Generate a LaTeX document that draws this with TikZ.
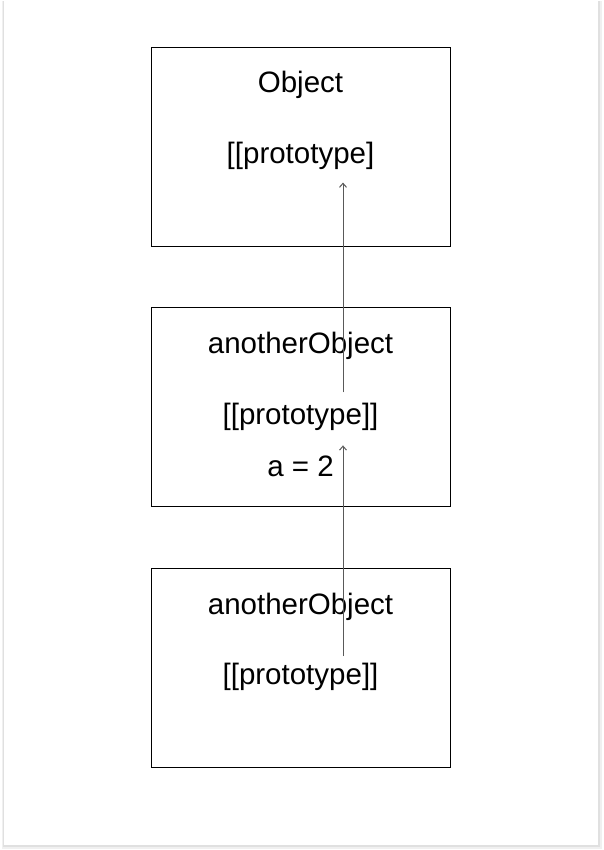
\documentclass[tikz,border=0pt]{standalone}
\usepackage{fontspec}
\setmainfont{Liberation Sans}
\usetikzlibrary{arrows.meta,positioning}
\tikzset{
  objbox/.style={draw=black,line width=0.8pt,minimum width=299pt,minimum height=199pt,inner sep=0pt},
  slottext/.style={font=\fontsize{29.5}{33}\selectfont,inner sep=0pt,anchor=base},
  linkarrow/.style={-{Straight Barb[length=4pt,width=7pt]},draw=black!65,line width=1pt}
}
\begin{document}
\begin{tikzpicture}[x=1pt,y=-1pt]
  \useasboundingbox (0,0) rectangle (603,850);
  % card with soft shadow
  \fill[black!6] (2,1) rectangle (602,849);
  \fill[black!12] (3,1) rectangle (600,847);
  \fill[white] (4,0) rectangle (598,845);
  % the three objects
  \node[objbox] (objbox) at (300.5,146.5) {};
  \node[objbox,below=61pt of objbox] (midbox) {};
  \node[objbox,below=61pt of midbox] (lowbox) {};
  \node[slottext] (objname) at ([yshift=-46pt]objbox.north) {Object};
  \node[slottext] (objproto) at ([yshift=-117pt]objbox.north) {[[prototype]};
  \node[slottext] (midname) at ([yshift=-46pt]midbox.north) {anotherObject};
  \node[slottext] (midproto) at ([yshift=-117pt]midbox.north) {[[prototype]]};
  \node[slottext] (midval) at ([yshift=-169pt]midbox.north) {a = 2};
  \node[slottext] (lowname) at ([yshift=-46pt]lowbox.north) {anotherObject};
  \node[slottext] (lowproto) at ([yshift=-116pt]lowbox.north) {[[prototype]]};
  % prototype links
  \coordinate (objtarget) at ([xshift=42.5pt,yshift=-136pt]objbox.north);
  \coordinate (midtail) at ([xshift=42.5pt,yshift=-85pt]midbox.north);
  \coordinate (midtarget) at ([xshift=42.5pt,yshift=-138pt]midbox.north);
  \coordinate (lowtail) at ([xshift=42.5pt,yshift=-88pt]lowbox.north);
  \draw[linkarrow] (midtail) -- (objtarget);
  \draw[linkarrow] (lowtail) -- (midtarget);
\end{tikzpicture}
\end{document}
